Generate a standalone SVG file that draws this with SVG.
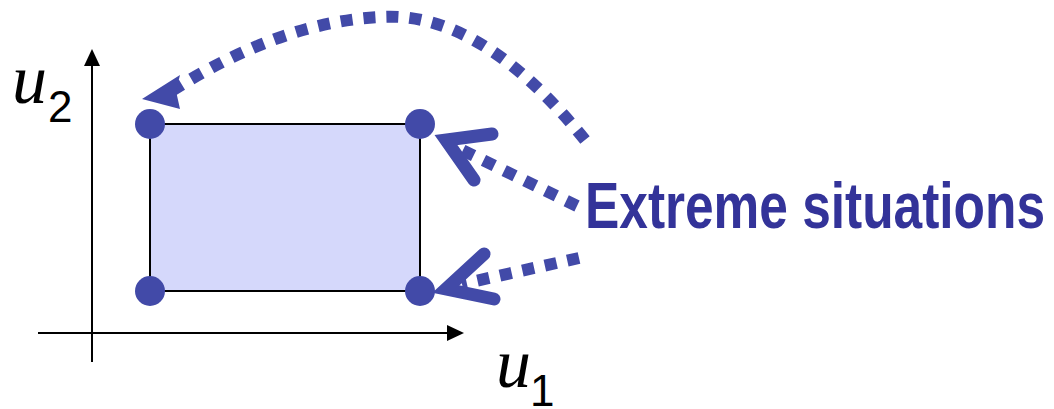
<svg xmlns="http://www.w3.org/2000/svg" width="1054" height="409" viewBox="0 0 1054 409">
<style>
.axis{stroke:#000;stroke-width:2;fill:none}
.dot{fill:#424aa8}
.dotted{fill:none;stroke:#424aa8;stroke-width:12;stroke-dasharray:12 11}
.head{fill:none;stroke:#424aa8;stroke-width:13;stroke-linecap:round;stroke-linejoin:miter;stroke-miterlimit:10}
.var{font-family:"Liberation Serif",serif;font-style:italic;font-size:70px;fill:#000}
.sub{font-family:"Liberation Sans",sans-serif;font-size:44px;fill:#000}
</style>
<rect width="1054" height="409" fill="#fff"/>
<g id="axes">
<line class="axis" x1="92" y1="63" x2="92" y2="362"/>
<polygon points="92,49 84,66 100,66" fill="#000"/>
<line class="axis" x1="38" y1="333" x2="450" y2="333"/>
<polygon points="464,333 447,325 447,341" fill="#000"/>
</g>
<g id="label-u2"><text class="var" x="12" y="103">u</text><text class="sub" x="48" y="122">2</text></g>
<g id="label-u1"><text class="var" x="496" y="387">u</text><text class="sub" x="530" y="406">1</text></g>
<g id="region"><rect x="150" y="124" width="270" height="167" fill="#d5d8fb" stroke="#000" stroke-width="2"/></g>
<g id="corner-tl"><circle class="dot" cx="150" cy="124" r="15"/></g>
<g id="corner-tr"><circle class="dot" cx="420" cy="124" r="15"/></g>
<g id="corner-bl"><circle class="dot" cx="150" cy="291" r="15"/></g>
<g id="corner-br"><circle class="dot" cx="420" cy="291" r="15"/></g>
<g id="label-extreme"><text x="585" y="228" font-family="Liberation Sans, Arial, sans-serif" font-weight="bold" font-size="64" fill="#333399" textLength="460" lengthAdjust="spacingAndGlyphs">Extreme situations</text></g>
<g id="connectors">
<path class="dotted" d="M585,140 Q480,10 380,17 Q280,22 170,92"/>
<polygon points="142,99 180,75 176,91 180,109" fill="#424aa8"/>
<path class="dotted" d="M577,206 L462,150"/>
<path class="head" d="M492,134 L446,140 L474,180"/>
<path class="dotted" d="M579,258 L462,284"/>
<path class="head" d="M484,254 L446,289 L494,299"/>
</g>
</svg>
